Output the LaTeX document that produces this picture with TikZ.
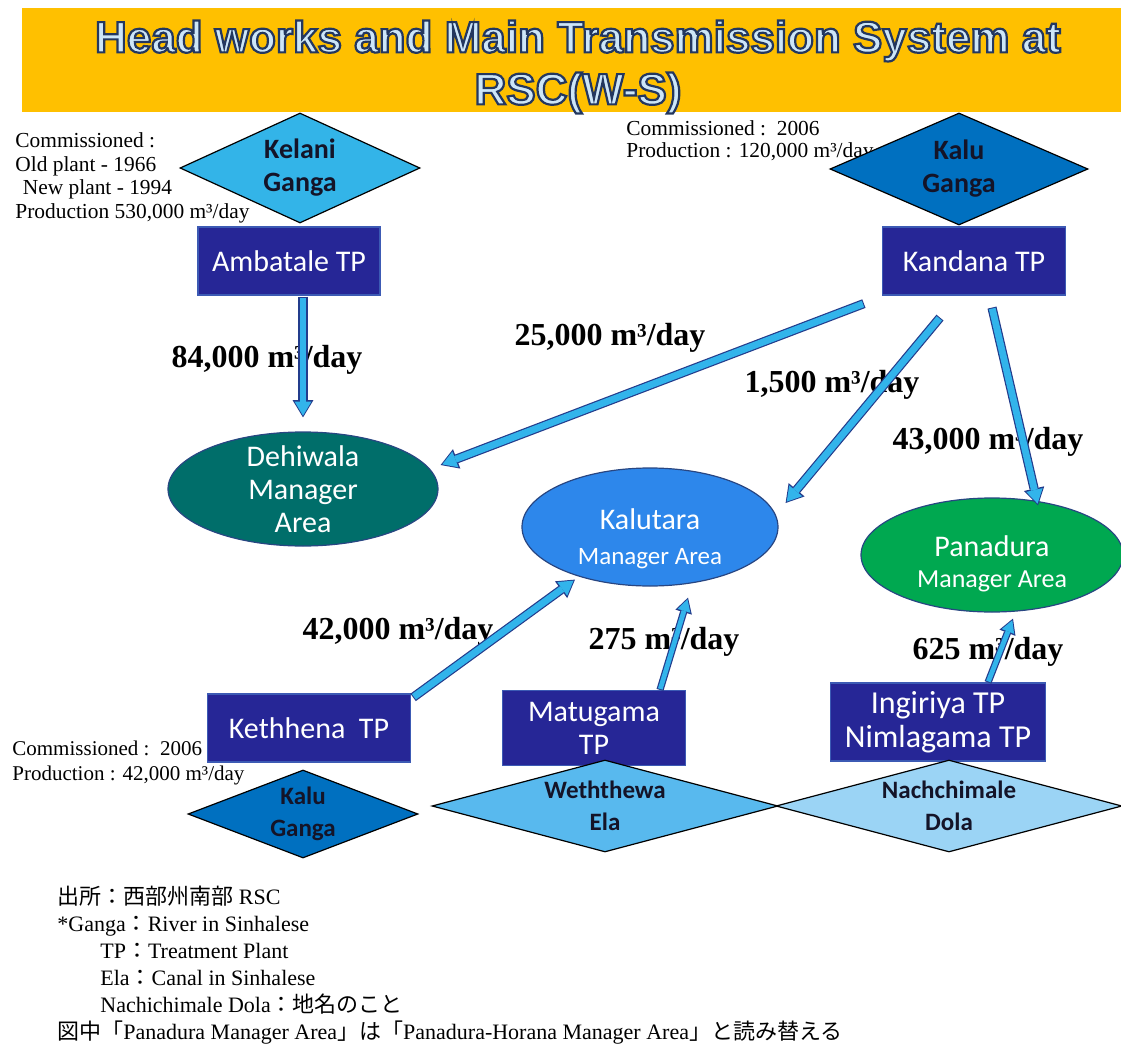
\documentclass[tikz,border=0pt]{standalone}
\usepackage{fontspec}
\setmainfont{Liberation Serif}
\newfontfamily\titlefont[UprightFont={* Bold}, FakeBold=5]{Liberation Sans}
\newfontfamily\boxfont{Carlito}
\newfontfamily\jafont{Noto Sans CJK JP}
\usetikzlibrary{shapes.geometric,arrows.meta}
\definecolor{bannerorange}{RGB}{255,192,0}
\definecolor{titlefill}{RGB}{205,230,248}
\definecolor{plantblue}{RGB}{38,38,150}
\definecolor{plantedge}{RGB}{60,90,180}
\definecolor{kelaniblue}{RGB}{51,180,232}
\definecolor{kalublue}{RGB}{0,112,192}
\definecolor{elablue}{RGB}{88,185,238}
\definecolor{dolablue}{RGB}{155,212,245}
\definecolor{dehiwalateal}{RGB}{0,110,106}
\definecolor{kalutarablue}{RGB}{45,135,235}
\definecolor{panaduragreen}{RGB}{0,168,80}
\definecolor{areaedge}{RGB}{40,70,130}
\definecolor{flowfill}{RGB}{50,180,235}
\definecolor{flowedge}{RGB}{35,60,140}
\definecolor{rivertext}{RGB}{20,20,40}
% outline colour of the title letters (stroke only)
\newcommand{\titleedge}{\special{pdf:literal direct 0.137 0.216 0.373 RG}}
\newcommand{\ja}[1]{{\jafont #1}}

\begin{document}
\begin{tikzpicture}[x=0.5pt, y=-0.5pt,
  plant/.style={draw=plantedge, fill=plantblue, text=white, line width=0.6pt, inner sep=0pt, align=center,
    font=\boxfont\fontsize{15}{16.5}\selectfont},
  river/.style={diamond, draw=black, line width=0.6pt, inner sep=0pt, align=center, text=rivertext,
    font=\boxfont\bfseries\fontsize{14}{16.5}\selectfont},
  lowriver/.style={river, aspect=3.7, font=\boxfont\bfseries\fontsize{12.5}{16}\selectfont},
  area/.style={ellipse, draw=areaedge, line width=0.6pt, inner sep=0pt},
  areatext/.style={text=white, align=center, inner sep=0pt, font=\boxfont\fontsize{15}{16.5}\selectfont},
  note/.style={anchor=base west, align=left, inner sep=0pt, font=\fontsize{11}{12}\selectfont},
  rate/.style={inner sep=0pt, font=\bfseries\fontsize{16}{18}\selectfont},
  flow/.style={draw=flowfill, line width=3.4pt, shorten >=0.9pt, shorten <=0.5pt,
    -{Triangle[width=8.4pt,length=7pt,line width=0pt]},
    preaction={draw=flowedge, line width=4.6pt, shorten >=0pt, shorten <=0pt,
      -{Triangle[width=10.4pt,length=8.6pt,line width=0pt]}}},
  thinflow/.style={draw=flowfill, line width=2.4pt, shorten >=0.9pt, shorten <=0.5pt,
    -{Triangle[width=6.6pt,length=6pt,line width=0pt]},
    preaction={draw=flowedge, line width=3.6pt, shorten >=0pt, shorten <=0pt,
      -{Triangle[width=8.6pt,length=7.6pt,line width=0pt]}}}]
\useasboundingbox (0,0) rectangle (1121,1044);

% Title bar
\fill[bannerorange] (22,8) rectangle (1121,112);
\node[text=titlefill, align=center, font=\titlefont\fontsize{22}{26}\selectfont] (title) at (578,67)
  {\titleedge Head works and Main Transmission System at\\\titleedge RSC(W-S)};

% Plant notes (anchored on the last line)
\node[note, font=\fontsize{10.7}{11.7}\selectfont] (kelaninote) at (15,218)
  {Commissioned :\\Old plant - 1966\\\hspace{0.35em}New plant - 1994\\Production 530,000 m³/day};
\node[note, font=\fontsize{10.7}{11}\selectfont] (kalunote) at (626,157)
  {Commissioned :\ \ 2006\\Production : 120,000 m³/day};
\node[note, font=\fontsize{10.5}{12.5}\selectfont] (kethhenanote) at (12,780)
  {Commissioned :\ \ 2006\\Production : 42,000 m³/day};

% Head works (rivers)
\node[river, aspect=2.2, fill=kelaniblue, minimum width=120pt, minimum height=55pt] (kelani) at (300,168) {Kelani\\Ganga};
\node[river, aspect=2.3, fill=kalublue, minimum width=129pt, minimum height=56pt] (kalutop) at (959,169) {Kalu\\Ganga};

% Treatment plants
\node[plant, minimum width=91pt, minimum height=34pt] (ambatale) at (289,261) {Ambatale TP};
\node[plant, minimum width=91.5pt, minimum height=34pt] (kandana) at (974,261) {Kandana TP};
\node[plant, minimum width=101.5pt, minimum height=34pt] (kethhena) at (309,728) {Kethhena\ \ TP};
\node[plant, minimum width=91.5pt, minimum height=37.5pt] (matugama) at (594,728) {Matugama\\TP};
\node[plant, minimum width=107.5pt, minimum height=39pt, font=\boxfont\fontsize{16}{17}\selectfont] (ingiriya) at (938,722)
  {Ingiriya TP\\Nimlagama TP};

% Rivers at the bottom
\node[lowriver, aspect=2.6, fill=kalublue, minimum width=115pt, minimum height=44pt] (kalubottom) at (303,814) {Kalu\\Ganga};
\node[lowriver, fill=elablue, minimum width=173pt, minimum height=46pt] (weththewa) at (605,806) {Weththewa\\Ela};
\node[lowriver, fill=dolablue, minimum width=173pt, minimum height=46pt] (nachchimale) at (949,806) {Nachchimale\\Dola};

% Manager areas
\node[area, fill=dehiwalateal, minimum width=135pt, minimum height=57pt,
  label={[areatext]center:{Dehiwala\\Manager\\Area}}] (dehiwala) at (303,489) {};
\node[area, fill=kalutarablue, minimum width=128pt, minimum height=59pt,
  label={[areatext, yshift=-6pt]center:{Kalutara\\[1pt]{\fontsize{12.5}{14}\selectfont Manager Area}}}] (kalutara) at (650,527) {};
\node[area, fill=panaduragreen, minimum width=131pt, minimum height=57pt,
  label={[areatext, yshift=-4.5pt]center:{Panadura\\[-1pt]{\fontsize{13}{14}\selectfont Manager Area}}}] (panadura) at (992,555) {};

% Flow rates
\node[rate] (rate84) at (267,360) {84,000 m³/day};
\node[rate] (rate25) at (610,338) {25,000 m³/day};
\node[rate] (rate15) at (832,385) {1,500 m³/day};
\node[rate] (rate43) at (988,442) {43,000 m³/day};
\node[rate] (rate42) at (398,632) {42,000 m³/day};
\node[rate] (rate275) at (664,642) {275 m³/day};
\node[rate] (rate625) at (988,652) {625 m³/day};

% Transmission
\draw[flow] ([shift={(14,1)}]ambatale.south) -- ([shift={(0,-14)}]dehiwala.north);
\draw[flow] ([shift={(-18,8)}]kandana.south west) -- ([shift={(2,-24)}]dehiwala.east);
\draw[flow] ([shift={(-34,22)}]kandana.south) -- ([shift={(7,-24)}]kalutara.east);
\draw[flow] ([shift={(18,12)}]kandana.south) -- ([shift={(46,8)}]panadura.north);
\draw[flow] ([shift={(2,4)}]kethhena.north east) -- ([shift={(-75,-7)}]kalutara.south);
\draw[thinflow] ([shift={(66,0)}]matugama.north) -- ([shift={(38,11)}]kalutara.south);
\draw[thinflow] ([shift={(50,0)}]ingiriya.north) -- ([shift={(21,6)}]panadura.south);

% Source and key (anchored on the last line)
\node[note, font=\fontsize{11}{13.5}\selectfont] (key) at (57,1039)
  {\ja{出所：西部州南部} RSC\\
   *Ganga\ja{：}River in Sinhalese\\
   \hspace{21.5pt}TP\ja{：}Treatment Plant\\
   \hspace{21.5pt}Ela\ja{：}Canal in Sinhalese\\
   \hspace{21.5pt}Nachichimale Dola\ja{：地名のこと}\\
   \ja{図中「}Panadura Manager Area\ja{」は「}Panadura-Horana Manager Area\ja{」と読み替える}};
\end{tikzpicture}
\end{document}
